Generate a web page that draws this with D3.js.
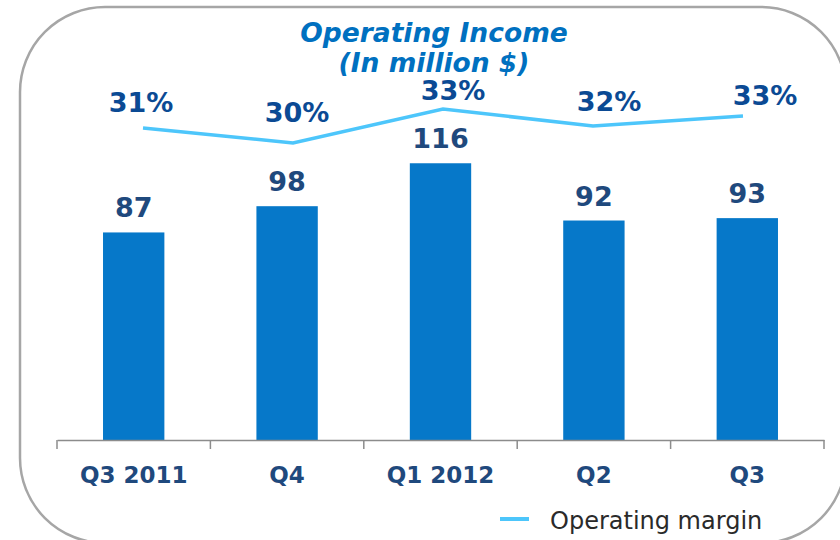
<!DOCTYPE html>
<html>
<head>
<meta charset="utf-8">
<style>
    body { margin: 0; background: #fff; }
    text { font-family: "DejaVu Sans", Verdana, sans-serif; }
</style>
</head>
<body>
<svg></svg>
<script src="https://d3js.org/d3.v7.min.js"></script>
<script>
    var vWidth = 840;
    var vHeight = 540;

    var quarters = ['Q3 2011', 'Q4', 'Q1 2012', 'Q2', 'Q3'];
    var income = [87, 98, 116, 92, 93];
    var margin = [31.4, 29.9, 33.3, 31.6, 32.6];
    var marginLabels = ['31%', '30%', '33%', '32%', '33%'];

    var svg = d3.select('svg').attr('width', vWidth).attr('height', vHeight);

    // frame
    svg.append('rect')
        .attr('x', 20).attr('y', 7)
        .attr('width', 826).attr('height', 536)
        .attr('rx', 85).attr('ry', 85)
        .attr('fill', 'none')
        .attr('stroke', '#a6a6a6')
        .attr('stroke-width', 2.5);

    // title
    var title = svg.append('text')
        .attr('text-anchor', 'middle')
        .attr('fill', '#0070c0')
        .attr('font-weight', 'bold')
        .attr('font-style', 'italic')
        .attr('font-size', 26.5);
    title.append('tspan').attr('x', 434).attr('y', 42).text('Operating Income');
    title.append('tspan').attr('x', 434).attr('y', 72).text('(In million $)');

    // scales
    var x = d3.scaleBand().domain(quarters).range([57, 824]).paddingInner(0.6).paddingOuter(0.3);
    var y = d3.scaleLinear().domain([0, 140]).range([440, 106]);
    var xm = d3.scalePoint().domain(quarters).range([143, 743]);
    var ym = d3.scaleLinear().domain([29.9, 33.3]).range([143, 109]);
    // label placement for the margin texts
    var xl = d3.scalePoint().domain(quarters).range([141, 765]);
    var yl = d3.scaleLinear().domain([29.9, 33.3]).range([122, 100]);

    // bars
    svg.selectAll('rect.bar').data(income).enter().append('rect')
        .attr('class', 'bar')
        .attr('x', function (d, i) { return x(quarters[i]); })
        .attr('y', function (d) { return y(d); })
        .attr('width', x.bandwidth())
        .attr('height', function (d) { return y(0) - y(d); })
        .attr('fill', '#0678c9');

    // value labels
    svg.selectAll('text.val').data(income).enter().append('text')
        .attr('class', 'val')
        .attr('x', function (d, i) { return x(quarters[i]) + x.bandwidth() / 2; })
        .attr('y', function (d) { return y(d) - 15; })
        .attr('text-anchor', 'middle')
        .attr('font-weight', 'bold')
        .attr('font-size', 27)
        .attr('fill', '#1f497d')
        .text(function (d) { return d; });

    // x axis
    var axis = svg.append('g')
        .attr('transform', 'translate(0,440)')
        .call(d3.axisBottom(x).tickSize(0).tickFormat(''));
    axis.select('.domain').attr('stroke', '#8c8c8c').attr('stroke-width', 1.5);
    var edges = [57].concat(quarters.map(function (q) { return x(q) + x.bandwidth() / 2 + x.step() / 2; }));
    axis.selectAll('line.sep').data(edges).enter().append('line')
        .attr('class', 'sep')
        .attr('x1', function (d) { return d; }).attr('x2', function (d) { return d; })
        .attr('y1', 0).attr('y2', 9)
        .attr('stroke', '#8c8c8c').attr('stroke-width', 1.5);

    svg.selectAll('text.cat').data(quarters).enter().append('text')
        .attr('class', 'cat')
        .attr('x', function (d) { return x(d) + x.bandwidth() / 2; })
        .attr('y', 483)
        .attr('text-anchor', 'middle')
        .attr('font-weight', 'bold')
        .attr('font-size', 23)
        .attr('fill', '#1f497d')
        .text(function (d) { return d; });

    // margin line
    var line = d3.line()
        .x(function (d, i) { return xm(quarters[i]); })
        .y(function (d) { return ym(d); });
    svg.append('path').datum(margin)
        .attr('d', line)
        .attr('fill', 'none')
        .attr('stroke', '#4dc6fb')
        .attr('stroke-width', 3.5);

    svg.selectAll('text.pct').data(margin).enter().append('text')
        .attr('class', 'pct')
        .attr('x', function (d, i) { return xl(quarters[i]); })
        .attr('y', function (d) { return yl(d); })
        .attr('text-anchor', 'middle')
        .attr('font-weight', 'bold')
        .attr('font-size', 27)
        .attr('fill', '#0b4a94')
        .text(function (d, i) { return marginLabels[i]; });

    // legend
    svg.append('line')
        .attr('x1', 500).attr('x2', 529).attr('y1', 519).attr('y2', 519)
        .attr('stroke', '#4dc6fb').attr('stroke-width', 4);
    svg.append('text')
        .attr('x', 550).attr('y', 529)
        .attr('font-size', 24)
        .attr('fill', '#2a2a2a')
        .text('Operating margin');
</script>
</body>
</html>
